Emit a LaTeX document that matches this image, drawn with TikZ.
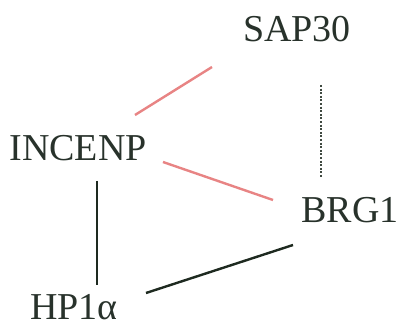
\documentclass[tikz,border=0pt]{standalone}
\usepackage{fontspec}
\setmainfont{Liberation Serif}
\definecolor{txt}{HTML}{28322B}
\definecolor{redline}{HTML}{E88484}
\definecolor{darkline}{HTML}{1E2A20}
\begin{document}
\begin{tikzpicture}[x=1pt,y=-1pt,
  lbl/.style={font=\fontsize{38}{42}\selectfont, text=txt, inner sep=0pt, anchor=base},
  redlink/.style={draw=redline, line width=2.4pt},
  blacklink/.style={draw=darkline, line width=2.4pt},
  dotlink/.style={draw=darkline!85, line width=2.8pt, dash pattern=on 2pt off 1.6pt}]
\useasboundingbox[fill=white] (0,0) rectangle (400,326);
\node[lbl] (sap) at (297,42) {SAP30};
\node[lbl] (incenp) at (78,161) {INCENP};
\node[lbl] (brg) at (350,223) {BRG1};
\node[lbl] (hp) at (74,320) {HP1α};
\coordinate (i1) at (135,115);
\coordinate (s1) at (212,67);
\coordinate (i2) at (163,162);
\coordinate (b1) at (273,200);
\coordinate (s2) at (321,85);
\coordinate (b2) at (321,177);
\coordinate (i3) at (97,181);
\coordinate (h1) at (97,285);
\coordinate (h2) at (146,293);
\coordinate (b3) at (293,245);
\draw[redlink] (i1) -- (s1);
\draw[redlink] (i2) -- (b1);
\draw[dotlink] (s2) -- (b2);
\draw[blacklink] (i3) -- (h1);
\draw[blacklink] (h2) -- (b3);
\end{tikzpicture}
\end{document}
